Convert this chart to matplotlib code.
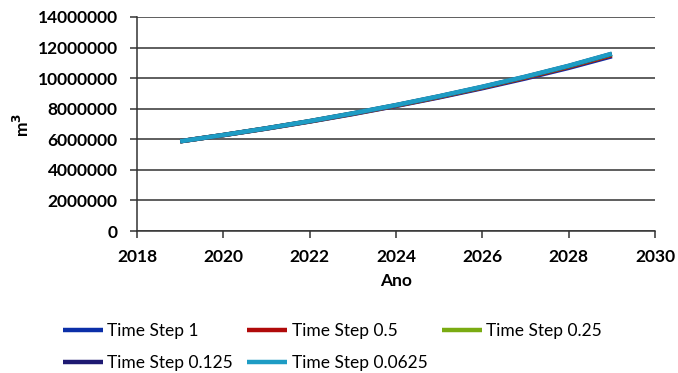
import matplotlib
matplotlib.use("Agg")
import matplotlib.pyplot as plt

years = [2019, 2020, 2021, 2022, 2023, 2024, 2025, 2026, 2027, 2028, 2029]
ts_1      = [5870000, 6270000, 6700000, 7160000, 7650000, 8180000, 8740000, 9340000, 9980000, 10670000, 11430000]
ts_05     = [5870000, 6275000, 6710000, 7170000, 7670000, 8200000, 8770000, 9380000, 10030000, 10730000, 11500000]
ts_025    = [5870000, 6278000, 6715000, 7180000, 7685000, 8220000, 8795000, 9410000, 10070000, 10775000, 11560000]
ts_0125   = [5870000, 6280000, 6718000, 7185000, 7692000, 8230000, 8808000, 9425000, 10085000, 10795000, 11585000]
ts_00625  = [5870000, 6282000, 6720000, 7190000, 7700000, 8240000, 8820000, 9440000, 10100000, 10810000, 11600000]

labels = ["Time Step 1", "Time Step 0.5", "Time Step 0.25", "Time Step 0.125", "Time Step 0.0625"]
colors = ["#0b2fa8", "#b00a0a", "#7aab12", "#1e1a72", "#1e9cc4"]
series = [ts_1, ts_05, ts_025, ts_0125, ts_00625]

plt.rcParams['font.family'] = ['Lato', 'DejaVu Sans']

fig = plt.figure(figsize=(6.78, 3.73), dpi=100)
ax = fig.add_axes([137 / 678, 1 - 231 / 373, 518 / 678, 214 / 373])

handles = []
for s, c, l in zip(series, colors, labels):
    h, = ax.plot(years, s, color=c, lw=3.2, label=l, solid_capstyle='butt')
    handles.append(h)

ax.set_xlim(2018, 2030)
ax.set_ylim(0, 14000000)
ax.set_xticks(range(2018, 2031, 2))
ax.set_yticks(range(0, 14000001, 2000000))
ax.yaxis.grid(True, color='#333333', lw=1.1)
ax.set_axisbelow(True)
for sp in ['top', 'right']:
    ax.spines[sp].set_visible(False)
for sp in ['left', 'bottom']:
    ax.spines[sp].set_color('#333333')
    ax.spines[sp].set_linewidth(1.1)
ax.tick_params(axis='both', direction='out', length=5, width=1.1, colors='#333333', labelsize=12.5)
ax.tick_params(axis='y', pad=9)
ax.tick_params(axis='x', pad=8)
for t in ax.get_xticklabels() + ax.get_yticklabels():
    t.set_fontweight('bold')
    t.set_color('black')
ax.ticklabel_format(axis='y', style='plain', useOffset=False)
ax.set_xlabel("Ano", fontsize=12.5, fontweight='bold')
ax.xaxis.set_label_coords(0.5, (231 - 281) / 214, transform=ax.transAxes)
ax.xaxis.label.set_va('center')
ax.set_ylabel("m$^\\mathbf{3}$", fontsize=12.5, fontweight='bold')
ax.yaxis.set_label_coords((22 - 137) / 518, (231 - 125) / 214, transform=ax.transAxes)
ax.yaxis.label.set_va('center')

order = [0, 3, 1, 4, 2]
fig.legend([handles[i] for i in order], [labels[i] for i in order], ncol=3,
           loc='upper left', bbox_to_anchor=(63 / 678, 1 - 323 / 373), frameon=False,
           fontsize=12.5, handlelength=2.3, handletextpad=0.25, columnspacing=0.83,
           labelspacing=0.95, borderaxespad=0, borderpad=0)

fig.savefig("out.png", dpi=100)
